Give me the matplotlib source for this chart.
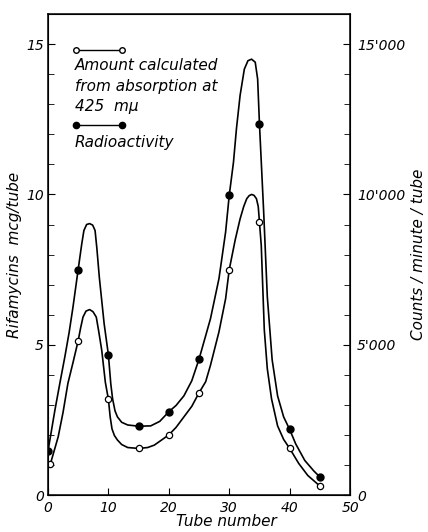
import matplotlib.pyplot as plt
from matplotlib.ticker import MultipleLocator, FixedLocator

# measured points (tube number, value)
tube_abs = [0.4, 5, 10, 15, 20, 25, 30, 35, 40, 45]
abs_val = [1.03, 5.13, 3.19, 1.55, 2.0, 3.4, 7.5, 9.08, 1.55, 0.3]

tube_rad = [0, 5, 10, 15, 20, 25, 30, 35, 40, 45]
rad_val = [1.45, 7.5, 4.67, 2.29, 2.77, 4.52, 9.97, 12.35, 2.18, 0.6]  # x1000 counts

# hand drawn curves
abs_curve_x = [0.4, 1.0, 1.7, 2.5, 3.3, 4.2, 5.0, 5.4, 5.8, 6.3, 6.9, 7.45, 8.0, 8.4, 8.9,
               9.5, 10.0, 10.3, 10.6, 11.0, 11.5, 12.2, 13.2, 15.0, 16.5, 17.6, 20.0, 21.2,
               22.5, 23.8, 25.0, 26.1, 26.9, 28.3, 29.4, 30.0, 31.0, 31.8, 32.4, 32.9, 33.3,
               33.7, 34.1, 34.5, 34.8, 35.0, 35.3, 35.8, 36.3, 37.0, 38.0, 39.0, 40.0, 41.5,
               43.0, 45.0]
abs_curve_y = [1.03, 1.45, 1.94, 2.75, 3.71, 4.45, 5.13, 5.55, 5.92, 6.12, 6.17, 6.1, 5.92, 5.45, 4.82,
               3.75, 3.19, 2.6, 2.2, 1.98, 1.83, 1.68, 1.58, 1.55, 1.58, 1.66, 2.0, 2.25,
               2.6, 2.95, 3.4, 3.77, 4.32, 5.43, 6.53, 7.5, 8.5, 9.19, 9.6, 9.86, 9.96,
               10.0, 9.97, 9.86, 9.6, 9.08, 8.3, 5.5, 4.2, 3.2, 2.3, 1.85, 1.55, 1.05,
               0.65, 0.3]

rad_curve_x = [0.0, 1.15, 2.0, 2.8, 3.5, 4.15, 5.0, 5.6, 5.95, 6.4, 6.9, 7.4, 7.8, 8.1, 8.5,
               9.3, 10.0, 10.4, 10.7, 11.1, 11.5, 12.2, 13.2, 15.0, 17.0, 18.5, 20.0, 21.2,
               22.5, 23.8, 25.0, 26.1, 26.9, 28.3, 29.4, 30.0, 30.7, 31.2, 31.8, 32.5, 33.1,
               33.7, 34.3, 34.7, 35.0, 35.7, 36.3, 37.1, 38.0, 39.0, 40.0, 41.0, 42.5, 44.0,
               45.0]
rad_curve_y = [1.45, 2.82, 3.75, 4.6, 5.4, 6.26, 7.5, 8.36, 8.8, 9.0, 9.03, 8.98, 8.8, 8.2, 7.25,
               5.7, 4.67, 3.7, 3.2, 2.8, 2.6, 2.42, 2.33, 2.29, 2.3, 2.45, 2.77, 2.98,
               3.3, 3.8, 4.52, 5.3, 5.87, 7.2, 8.75, 9.97, 11.07, 12.2, 13.3, 14.17, 14.45,
               14.5, 14.4, 13.84, 12.35, 9.41, 6.6, 4.5, 3.3, 2.6, 2.18, 1.7, 1.15, 0.8,
               0.6]

xticks = [0, 10, 20, 30, 40, 50]
left_ticks = [0, 5, 10, 15]
right_ticks = [0, 5000, 10000, 15000]
right_labels = ["0", "5'000", "10'000", "15'000"]

plt.rcParams['font.family'] = ['DejaVu Sans']
plt.rcParams['font.style'] = 'italic'

fig = plt.figure(figsize=(4.28, 5.32), dpi=100, facecolor="w")
ax = fig.add_axes([0.112, 0.0695, 0.706, 0.904])

ax.plot(abs_curve_x, abs_curve_y, color='k', lw=1.2, solid_joinstyle='round')
ax.plot(rad_curve_x, rad_curve_y, color='k', lw=1.2, solid_joinstyle='round')
ax.plot(tube_abs, abs_val, 'o', ms=4.5, mfc='w', mec='k', mew=0.9)
ax.plot(tube_rad, rad_val, 'o', ms=5, mfc='k', mec='k')

ax.set_xlim(0, 50)
ax.set_ylim(0, 16)
ax.set_xticks(xticks)
ax.set_yticks(left_ticks)
ax.yaxis.set_minor_locator(MultipleLocator(1))
ax.tick_params(axis='both', which='both', direction='in', labelsize=10)
ax.tick_params(which='major', length=5)
ax.tick_params(which='minor', length=4)
ax.tick_params(axis='x', pad=4)
ax.tick_params(axis='y', pad=3)
for sp in ax.spines.values():
  sp.set_linewidth(1.1)

ax.set_xlabel('Tube number', fontsize=11)
ax.xaxis.set_label_coords(0.59, -0.04)
ax.set_ylabel('Rifamycins  mcg/tube', fontsize=11, labelpad=3)

ax2 = ax.twinx()
ax2.set_ylim(0, 16000)
ax2.yaxis.set_major_locator(FixedLocator(right_ticks))
ax2.set_yticklabels(right_labels)
ax2.yaxis.set_minor_locator(MultipleLocator(1000))
ax2.tick_params(axis='y', which='both', direction='in', labelsize=10, pad=5)
ax2.tick_params(which='major', length=5)
ax2.tick_params(which='minor', length=4)
ax2.set_ylabel('Counts / minute / tube', fontsize=11, labelpad=4)

# legend, drawn by hand like the original
ax.plot([4.6, 12.2], [14.8, 14.8], '-o', color='k', lw=1, ms=4, mfc='w', mec='k')
ax.text(4.4, 13.6, 'Amount calculated\nfrom absorption at\n425  m\u03bc', fontsize=11,
        va='center', ha='left', linespacing=1.45)
ax.plot([4.6, 12.2], [12.3, 12.3], '-o', color='k', lw=1, ms=4.5, mfc='k', mec='k')
ax.text(4.4, 11.73, 'Radioactivity', fontsize=11, va='center', ha='left')

plt.savefig('out.png', dpi=100)
